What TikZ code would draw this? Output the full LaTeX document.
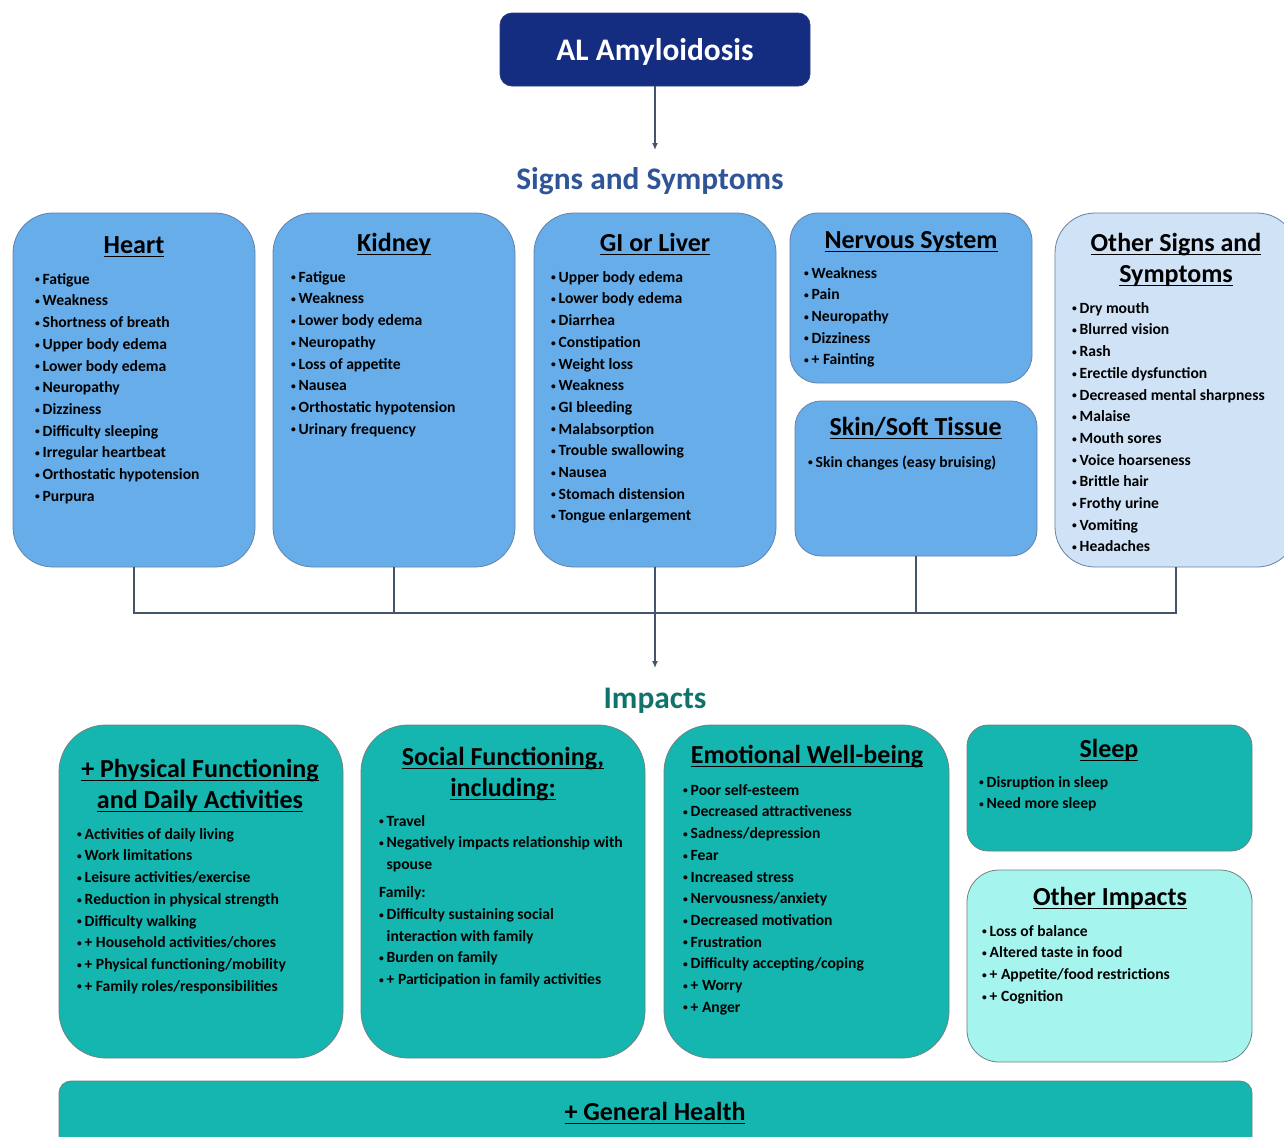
\documentclass[tikz,border=0pt]{standalone}
\usepackage{fontspec}
\setmainfont{Carlito}
\usetikzlibrary{arrows.meta}
\definecolor{navy}{RGB}{20,45,128}
\definecolor{ssblue}{RGB}{47,85,151}
\definecolor{impteal}{RGB}{15,115,105}
\definecolor{skyb}{RGB}{102,173,233}
\definecolor{paleb}{RGB}{207,226,246}
\definecolor{tealb}{RGB}{20,182,175}
\definecolor{palet}{RGB}{166,244,238}
\definecolor{connc}{RGB}{68,84,106}
\definecolor{edgeb}{RGB}{100,130,170}
\definecolor{edget}{RGB}{110,130,130}
\newlength{\bw}\setlength{\bw}{7.5pt}
\newlength{\hdw}
\newcommand{\bu}{\makebox[\bw][l]{\raisebox{1.3pt}{\fontsize{9.5}{9.5}\selectfont\textbullet}}}
\newcommand{\hd}[1]{\settowidth{\hdw}{#1}\rlap{\rule[-4.2pt]{\hdw}{1.7pt}}#1}
\begin{document}
\begin{tikzpicture}[x=1pt,y=-1pt,
  box/.style={line width=0.8pt, inner sep=0pt},
  sbox/.style={box, draw=edgeb, fill=skyb},
  pbox/.style={box, draw=edgeb, fill=paleb},
  tbox/.style={box, draw=edget, fill=tealb},
  ptbox/.style={box, draw=edget, fill=palet},
  head/.style={anchor=base, inner sep=0pt, font=\bfseries\fontsize{26}{31}\selectfont},
  lst/.style={anchor=north west, align=left, inner sep=0pt, font=\bfseries\fontsize{15.6}{21.7}\selectfont},
  conn/.style={draw=connc, line width=2pt},
  arr/.style={draw=connc, line width=1.6pt, -{Latex[length=7pt,width=6pt]}},
  bigtitle/.style={anchor=base, inner sep=0pt, font=\bfseries\fontsize{31.4}{37}\selectfont}
]
\useasboundingbox (0,0) rectangle (1284,1136);
\fill[white] (0,0) rectangle (1284,1136);

% title
\node[box, draw=navy!80!gray, fill=navy, minimum width=310, minimum height=73, rounded corners=12] (title) at (655,49.5) {};
\node[bigtitle, text=white] (titletxt) at (655,60) {AL Amyloidosis};
\coordinate (sstip) at (655,150);
\draw[arr] (title.south) -- (sstip);
\node[bigtitle, text=ssblue] (ss) at (650,189) {Signs and Symptoms};

% sign boxes
\node[sbox, minimum width=242, minimum height=354, rounded corners=40] (heart) at (134,390) {};
\node[sbox, minimum width=242, minimum height=354, rounded corners=40] (kidney) at (394,390) {};
\node[sbox, minimum width=242, minimum height=354, rounded corners=40] (gi) at (655,390) {};
\node[sbox, minimum width=242, minimum height=170, rounded corners=28] (nerv) at (911,298) {};
\node[sbox, minimum width=242, minimum height=155, rounded corners=26] (skin) at (916,478.5) {};
\node[pbox, minimum width=242, minimum height=354, rounded corners=40] (other) at (1176,390) {};

\node[head] (heartT) at (134,253) {\hd{Heart}};
\node[head] (kidneyT) at (394,251) {\hd{Kidney}};
\node[head] (giT) at (655,251) {\hd{GI or Liver}};
\node[head] (nervT) at (911,248) {\hd{Nervous System}};
\node[head] (skinT) at (915.5,435) {\hd{Skin/Soft Tissue}};
\node[head] (otherT1) at (1176,251) {\hd{Other Signs and}};
\node[head] (otherT2) at (1176,282) {\hd{Symptoms}};

\node[lst] (heartL) at (35,268.8) {\strut\bu Fatigue\\ \bu Weakness\\ \bu Shortness of breath\\ \bu Upper body edema\\ \bu Lower body edema\\ \bu Neuropathy\\ \bu Dizziness\\ \bu Difficulty sleeping\\ \bu Irregular heartbeat\\ \bu Orthostatic hypotension\\ \bu Purpura};
\node[lst] (kidneyL) at (291,266.8) {\strut\bu Fatigue\\ \bu Weakness\\ \bu Lower body edema\\ \bu Neuropathy\\ \bu Loss of appetite\\ \bu Nausea\\ \bu Orthostatic hypotension\\ \bu Urinary frequency};
\node[lst] (giL) at (551,266.8) {\strut\bu Upper body edema\\ \bu Lower body edema\\ \bu Diarrhea\\ \bu Constipation\\ \bu Weight loss\\ \bu Weakness\\ \bu GI bleeding\\ \bu Malabsorption\\ \bu Trouble swallowing\\ \bu Nausea\\ \bu Stomach distension\\ \bu Tongue enlargement};
\node[lst] (nervL) at (804,262.8) {\strut\bu Weakness\\ \bu Pain\\ \bu Neuropathy\\ \bu Dizziness\\ \bu + Fainting};
\node[lst] (skinL) at (808,451.8) {\strut\bu Skin changes (easy bruising)};
\node[lst] (otherL) at (1072,297.8) {\strut\bu Dry mouth\\ \bu Blurred vision\\ \bu Rash\\ \bu Erectile dysfunction\\ \bu Decreased mental sharpness\\ \bu Malaise\\ \bu Mouth sores\\ \bu Voice hoarseness\\ \bu Brittle hair\\ \bu Frothy urine\\ \bu Vomiting\\ \bu Headaches};

% connectors
\coordinate (bus) at (655,613);
\coordinate (imptip) at (655,668);
\draw[conn] (heart.south) -- (heart.south |- bus) -- (other.south |- bus) -- (other.south);
\draw[conn] (kidney.south) -- (kidney.south |- bus);
\draw[conn] (gi.south) -- (gi.south |- bus);
\draw[conn] (skin.south) -- (skin.south |- bus);
\draw[arr] (gi.south |- bus) -- (imptip);
\node[bigtitle, text=impteal] (imp) at (655,708) {Impacts};

% impact boxes
\node[tbox, minimum width=284, minimum height=333, rounded corners=47] (phys) at (201,891.5) {};
\node[tbox, minimum width=284, minimum height=333, rounded corners=47] (social) at (503,891.5) {};
\node[tbox, minimum width=285, minimum height=333, rounded corners=47] (emot) at (806.5,891.5) {};
\node[tbox, minimum width=285, minimum height=126, rounded corners=21] (sleep) at (1109.5,788) {};
\node[ptbox, minimum width=285, minimum height=192, rounded corners=32] (oimp) at (1109.5,966) {};
\node[tbox, minimum width=1193, minimum height=69, rounded corners=12] (gen) at (655.5,1115.5) {};

\node[head] (physT1) at (200,777) {\hd{+ Physical Functioning}};
\node[head] (physT2) at (200,808) {\hd{and Daily Activities}};
\node[head] (socialT1) at (503,765) {\hd{Social Functioning,}};
\node[head] (socialT2) at (503,796) {\hd{including:}};
\node[head] (emotT) at (807,763) {\hd{Emotional Well-being}};
\node[head] (sleepT) at (1109,757) {\hd{Sleep}};
\node[head] (oimpT) at (1110,905) {\hd{Other Impacts}};
\node[head] (genT) at (655,1120) {\hd{+ General Health}};

\node[lst] (physL) at (77,823.8) {\strut\bu Activities of daily living\\ \bu Work limitations\\ \bu Leisure activities/exercise\\ \bu Reduction in physical strength\\ \bu Difficulty walking\\ \bu + Household activities/chores\\ \bu + Physical functioning/mobility\\ \bu + Family roles/responsibilities};
\node[lst] (socialL) at (379,810.8) {\strut\bu Travel\\ \bu Negatively impacts relationship with\\ \hspace*{\bw}spouse\\[6.3pt] Family:\\ \bu Difficulty sustaining social\\ \hspace*{\bw}interaction with family\\ \bu Burden on family\\ \bu + Participation in family activities};
\node[lst] (emotL) at (683,779.8) {\strut\bu Poor self-esteem\\ \bu Decreased attractiveness\\ \bu Sadness/depression\\ \bu Fear\\ \bu Increased stress\\ \bu Nervousness/anxiety\\ \bu Decreased motivation\\ \bu Frustration\\ \bu Difficulty accepting/coping\\ \bu + Worry\\ \bu + Anger};
\node[lst] (sleepL) at (979,771.8) {\strut\bu Disruption in sleep\\ \bu Need more sleep};
\node[lst] (oimpL) at (982,920.8) {\strut\bu Loss of balance\\ \bu Altered taste in food\\ \bu + Appetite/food restrictions\\ \bu + Cognition};
\end{tikzpicture}
\end{document}
